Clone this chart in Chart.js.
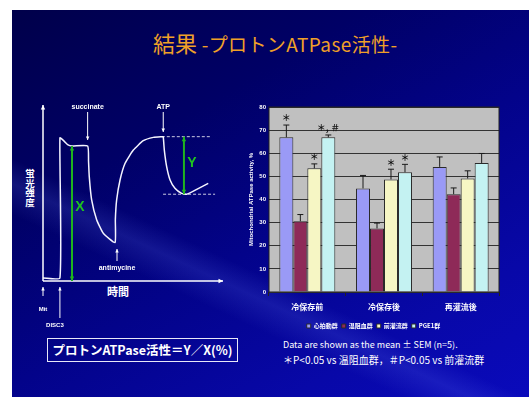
<!DOCTYPE html>
<html lang="ja">
<head>
<meta charset="UTF-8" />
<title>結果 -プロトンATPase活性-</title>
<script src="https://cdn.jsdelivr.net/npm/chart.js"></script>
<style>
  html, body {
    margin: 0;
    padding: 0;
    background: #fff;
  }
  body {
    width: 529px;
    height: 397px;
    position: relative;
    overflow: hidden;
    font-family: "Noto Sans CJK JP", "Liberation Sans", sans-serif;
  }
  .slide {
    position: absolute;
    left: 12px;
    top: 10px;
    width: 517px;
    height: 387px;
    background:
      linear-gradient(205deg, rgba(0,0,0,0) 62%, rgba(110,130,255,0.16) 66%, rgba(0,0,0,0) 71%),
      linear-gradient(150deg, #00004a 0%, #000066 30%, #03038a 55%, #0808a8 80%, #0a0abc 100%);
  }
  .title {
    position: absolute;
    left: 153px;
    top: 27px;
    color: #f0a028;
    white-space: nowrap;
    font-size: 19px;
    letter-spacing: 0.4px;
    line-height: 30px;
  }
  .title .big { font-size: 22px; letter-spacing: 0; }
  .ylab {
    position: absolute;
    left: 24px;
    top: 169px;
    width: 12px;
    color: #fff;
    font-size: 9.5px;
    font-weight: bold;
    text-align: center;
  }
  .ylab div { height: 9.5px; line-height: 9.5px; }
  .xlab {
    position: absolute;
    left: 107px;
    top: 283px;
    color: #fff;
    font-size: 11px;
    font-weight: bold;
  }
  .formula {
    position: absolute;
    left: 47px;
    top: 338px;
    width: 189px;
    height: 22px;
    border: 1px solid #e8e8f8;
    color: #fff;
    font-size: 12.5px;
    font-weight: bold;
    line-height: 22px;
    text-align: center;
    white-space: nowrap;
  }
  .note {
    position: absolute;
    left: 283px;
    color: #fff;
    white-space: nowrap;
  }
  canvas { position: absolute; }
  #traceChart { left: 20px; top: 95px; }
  #atpChart { left: 248px; top: 98px; }
</style>
</head>
<body>
<div class="slide"></div>
<div class="title"><span class="big">結果</span> -プロトンATPase活性-</div>
<div class="ylab"><div>蛍</div><div>光</div><div>強</div><div>度</div></div>
<div class="xlab">時間</div>
<div class="formula">プロトンATPase活性＝Y／X(%)</div>
<div class="note" style="top:338px;font-size:9px">Data are shown as the mean ± SEM (n=5).</div>
<div class="note" style="top:352px;font-size:10px">＊P&lt;0.05 vs 温阻血群，＃P&lt;0.05 vs 前灌流群</div>

<canvas id="traceChart" width="220" height="240"></canvas>
<canvas id="atpChart" width="266" height="245"></canvas>

<script>
  // Fluorescence trace (arbitrary time / intensity units)
  const traceTime = [0, 9.4, 9.4, 11.7, 13.9, 16.1, 24.8, 25.3, 25.7, 27.0, 29.8, 33.5, 40.0,
    40.2, 40.9, 42.8, 45.6, 50.2, 55.7, 61.3, 66.3, 66.8, 67.4, 68.7, 70.6, 73.3, 77.0, 79.8, 85.4, 91.8];
  const traceSignal = [1.7, 1.7, 81.3, 79.5, 77.3, 76.7, 76.7, 68.0, 59.3, 46.2, 34.8, 27.1, 21.8,
    35.0, 46.0, 57.4, 66.9, 74.4, 79.7, 81.6, 82.0, 82.0, 74.4, 65.0, 57.4, 52.7, 49.8, 49.3, 52.1, 55.5];

  // Additions during the measurement
  const eventNames = ['Mit', 'DISC3', 'succinate', 'antimycine', 'ATP'];
  const eventTimes = [0, 9.4, 24.8, 40.0, 66.8];

  // X = membrane potential after succinate, Y = drop after ATP
  const xSpanTime = 16.1;
  const xSpan = [0, 76.7];
  const ySpanTime = 78.3;
  const ySpan = [49.3, 82.0];

  // Bar chart data
  const categories = ['冷保存前', '冷保存後', '再灌流後'];
  const groupNames = ['心拍動群', '温阻血群', '前灌流群', 'PGE1群'];
  const beatingMean = [66.9, 44.8, 54.1];
  const beatingSem = [5.3, 5.6, 4.3];
  const ischemiaMean = [30.6, 27.5, 42.3];
  const ischemiaSem = [2.9, 2.3, 2.7];
  const perfusionMean = [53.5, 48.7, 49.1];
  const perfusionSem = [1.9, 4.4, 3.3];
  const pge1Mean = [66.9, 51.8, 55.8];
  const pge1Sem = [1.0, 3.4, 4.1];
  const beatingMarks = ['＊', '', ''];
  const ischemiaMarks = ['', '', ''];
  const perfusionMarks = ['＊', '＊', ''];
  const pge1Marks = ['＊, ＃', '＊', ''];
  const yMin = 0, yMax = 80, yStep = 10;

  function arrowHead(ctx, x1, y1, x2, y2, size) {
    const a = Math.atan2(y2 - y1, x2 - x1);
    ctx.beginPath();
    ctx.moveTo(x2, y2);
    ctx.lineTo(x2 - size * Math.cos(a - 0.45), y2 - size * Math.sin(a - 0.45));
    ctx.lineTo(x2 - size * Math.cos(a + 0.45), y2 - size * Math.sin(a + 0.45));
    ctx.closePath();
    ctx.fill();
  }

  function arrow(ctx, x1, y1, x2, y2, opts) {
    ctx.save();
    ctx.strokeStyle = opts.color;
    ctx.fillStyle = opts.color;
    ctx.lineWidth = opts.width;
    ctx.beginPath();
    ctx.moveTo(x1, y1);
    ctx.lineTo(x2, y2);
    ctx.stroke();
    arrowHead(ctx, x1, y1, x2, y2, opts.head);
    if (opts.both) arrowHead(ctx, x2, y2, x1, y1, opts.head);
    ctx.restore();
  }

  // axes, event arrows and X / Y markers around the trace
  const traceDecor = {
    id: 'traceDecor',
    afterDatasetsDraw(chart) {
      const { ctx, scales: { x, y } } = chart;
      const px = v => x.getPixelForValue(v);
      const py = v => y.getPixelForValue(v);
      const white = { color: '#fff', width: 1, head: 4 };

      // axes with arrowheads
      arrow(ctx, px(0), py(0), px(0), py(100), { color: '#fff', width: 1.5, head: 5 });
      arrow(ctx, px(0), py(0), px(100), py(0), { color: '#fff', width: 1.5, head: 5 });

      ctx.save();
      ctx.fillStyle = '#fff';
      ctx.textAlign = 'center';
      ctx.textBaseline = 'middle';
      eventNames.forEach((name, i) => {
        const ex = px(eventTimes[i]);
        if (name === 'Mit') {
          arrow(ctx, ex, py(0) + 15, ex, py(0) + 6, white);
          ctx.font = 'bold 6px "Liberation Sans"';
          ctx.fillText(name, ex, py(0) + 28);
        } else if (name === 'DISC3') {
          arrow(ctx, ex, py(0) + 37, ex, py(0) + 6, white);
          ctx.font = 'bold 6px "Liberation Sans"';
          ctx.fillText(name, ex - 5, py(0) + 44);
        } else if (name === 'antimycine') {
          arrow(ctx, ex + 2, py(0) - 20, ex + 2, py(0) - 32, white);
          ctx.font = 'bold 7px "Liberation Sans"';
          ctx.fillText(name, ex + 2, py(0) - 13);
        } else {
          arrow(ctx, ex, py(100) + 7, ex, py(100) + (name === 'ATP' ? 27 : 35), white);
          ctx.font = 'bold 7px "Liberation Sans"';
          ctx.fillText(name, ex, py(100) + 2);
        }
      });
      ctx.restore();

      // dashed reference levels for Y
      ctx.save();
      ctx.strokeStyle = '#fff';
      ctx.lineWidth = 0.8;
      ctx.setLineDash([3, 2]);
      ctx.beginPath();
      ctx.moveTo(px(66.0), py(ySpan[1]));
      ctx.lineTo(px(93.3), py(ySpan[1]));
      ctx.moveTo(px(66.7), py(ySpan[0]));
      ctx.lineTo(px(95.6), py(ySpan[0]));
      ctx.stroke();
      ctx.restore();

      const green = { color: '#1fb41f', width: 2, head: 5, both: true };
      arrow(ctx, px(xSpanTime), py(xSpan[0]), px(xSpanTime), py(xSpan[1]), green);
      arrow(ctx, px(ySpanTime), py(ySpan[0]), px(ySpanTime), py(ySpan[1]), green);

      ctx.save();
      ctx.fillStyle = '#1fc41f';
      ctx.font = 'bold 14px "Liberation Sans"';
      ctx.textAlign = 'center';
      ctx.textBaseline = 'middle';
      ctx.fillText('X', px(xSpanTime) + 8, py((xSpan[0] + xSpan[1]) / 2) - 6);
      ctx.fillText('Y', px(ySpanTime) + 8, py((ySpan[0] + ySpan[1]) / 2) - 2);
      ctx.restore();
    }
  };

  new Chart(document.getElementById('traceChart'), {
    type: 'scatter',
    data: {
      datasets: [{
        data: traceTime.map((t, i) => ({ x: t, y: traceSignal[i] })),
        showLine: true,
        borderColor: '#f4f4ff',
        borderWidth: 1.5,
        pointRadius: 0,
        tension: 0.15,
        clip: false
      }]
    },
    options: {
      responsive: false,
      animation: false,
      layout: { padding: { left: 23, right: 17, top: 10, bottom: 54 } },
      plugins: { legend: { display: false }, tooltip: { enabled: false } },
      scales: {
        x: { type: 'linear', min: 0, max: 100, display: false },
        y: { type: 'linear', min: 0, max: 100, display: false }
      }
    },
    plugins: [traceDecor]
  });

  // silver plot area, SEM whiskers and significance marks
  const barDecor = {
    id: 'barDecor',
    beforeDraw(chart) {
      const { ctx, chartArea: a } = chart;
      ctx.save();
      ctx.fillStyle = '#c0c0c0';
      ctx.fillRect(a.left, a.top, a.right - a.left, a.bottom - a.top);
      ctx.restore();
    },
    afterDatasetsDraw(chart) {
      const { ctx, chartArea: a, scales: { y } } = chart;
      ctx.save();
      chart.data.datasets.forEach((ds, i) => {
        chart.getDatasetMeta(i).data.forEach((bar, j) => {
          const top = y.getPixelForValue(ds.data[j] + ds.sem[j]);
          ctx.strokeStyle = '#1a1a1a';
          ctx.lineWidth = 1;
          ctx.beginPath();
          ctx.moveTo(bar.x, bar.y);
          ctx.lineTo(bar.x, top);
          ctx.moveTo(bar.x - 3, top);
          ctx.lineTo(bar.x + 3, top);
          ctx.stroke();
          if (ds.marks[j]) {
            ctx.fillStyle = '#111';
            ctx.font = 'bold 9px "Noto Sans CJK JP"';
            ctx.textAlign = 'center';
            ctx.textBaseline = 'middle';
            ctx.fillText(ds.marks[j], bar.x, top - 7);
          }
        });
      });
      ctx.strokeStyle = '#222';
      ctx.lineWidth = 1;
      ctx.strokeRect(a.left, a.top, a.right - a.left, a.bottom - a.top);
      ctx.restore();
    }
  };

  const barColors = ['#9a9af6', '#8e2a58', '#f6f6c4', '#c4f2f2'];
  const means = [beatingMean, ischemiaMean, perfusionMean, pge1Mean];
  const sems = [beatingSem, ischemiaSem, perfusionSem, pge1Sem];
  const marks = [beatingMarks, ischemiaMarks, perfusionMarks, pge1Marks];

  new Chart(document.getElementById('atpChart'), {
    type: 'bar',
    data: {
      labels: categories,
      datasets: groupNames.map((name, i) => ({
        label: name,
        data: means[i],
        sem: sems[i],
        marks: marks[i],
        backgroundColor: barColors[i],
        borderColor: '#2a2a2a',
        borderWidth: 1,
        barPercentage: 1.0,
        categoryPercentage: 0.73
      }))
    },
    options: {
      responsive: false,
      animation: false,
      layout: { padding: { left: 0, right: 15, top: 9, bottom: 4 } },
      plugins: {
        tooltip: { enabled: false },
        legend: {
          position: 'bottom',
          labels: {
            color: '#fff',
            boxWidth: 4,
            boxHeight: 4,
            padding: 4,
            font: { size: 6, family: '"Noto Sans CJK JP"', weight: 'bold' }
          }
        }
      },
      scales: {
        x: {
          grid: { drawOnChartArea: false, drawTicks: true, tickLength: 4, color: '#222' },
          border: { display: false },
          ticks: { color: '#fff', font: { size: 8, weight: 'bold', family: '"Noto Sans CJK JP"' }, padding: 6 },
          afterFit(scale) { scale.height = 27; }
        },
        y: {
          min: yMin,
          max: yMax,
          ticks: { stepSize: yStep, color: '#fff', padding: 3, font: { size: 6, weight: 'bold', family: '"Liberation Sans"' } },
          grid: { color: '#333', lineWidth: 1, drawTicks: false },
          border: { display: false },
          title: {
            display: true,
            text: 'Mitochondrial ATPase activity, %',
            color: '#fff',
            padding: 0,
            font: { size: 6, weight: 'bold', family: '"Liberation Sans"' }
          },
          afterFit(scale) { scale.width = 21; }
        }
      }
    },
    plugins: [barDecor]
  });
</script>
</body>
</html>
